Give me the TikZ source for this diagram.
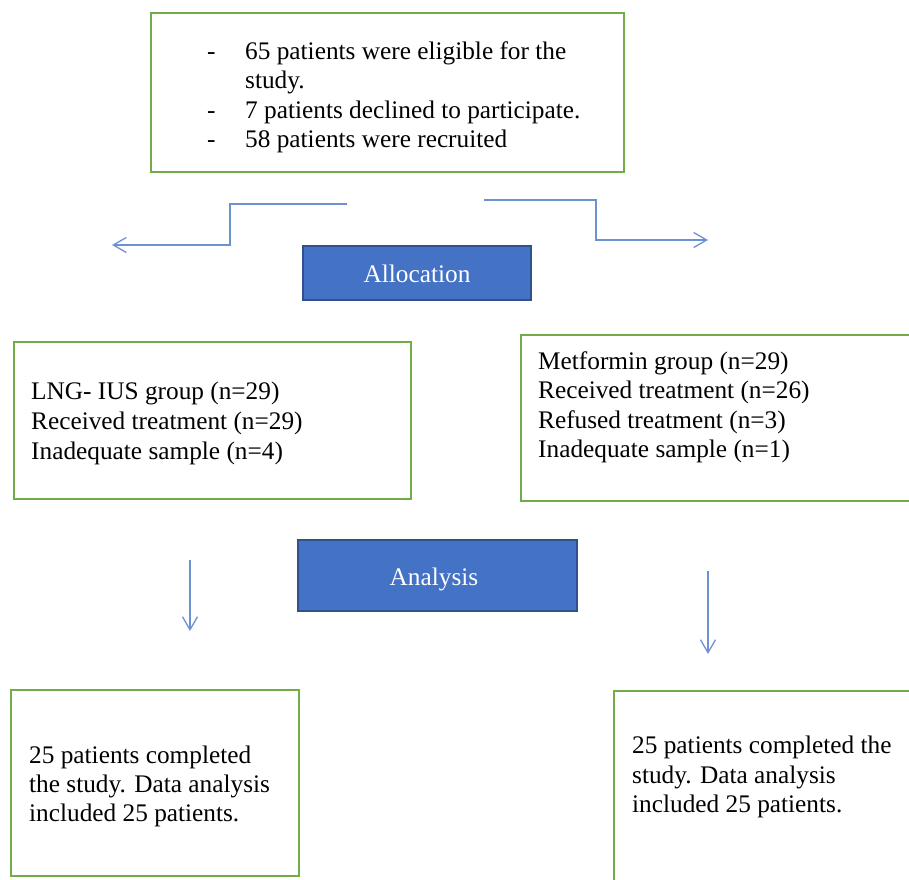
\documentclass[tikz,border=0pt]{standalone}
\usepackage{fontspec}
\setmainfont{Liberation Serif}
\usetikzlibrary{arrows.meta}
\definecolor{boxgreen}{RGB}{112,173,71}
\definecolor{boxblue}{RGB}{68,114,196}
\definecolor{boxblueborder}{RGB}{47,82,143}
\definecolor{arrowblue}{RGB}{110,145,212}
\tikzset{
  greenbox/.style={draw=boxgreen, line width=2pt, rectangle, inner sep=0pt, fill=white},
  bluebox/.style={draw=boxblueborder, line width=1.6pt, fill=boxblue, rectangle, inner sep=0pt},
  txt/.style={anchor=base west, inner sep=0pt, font=\fontsize{25.3}{29.5}\selectfont},
  wtxt/.style={anchor=base, inner sep=0pt, text=white, font=\fontsize{25.3}{29.5}\selectfont},
  flowarrow/.style={draw=arrowblue, line width=1.3pt, -{Straight Barb[length=13pt,width=15pt,line width=1.3pt]}}
}
\begin{document}
\begin{tikzpicture}[x=1pt,y=-1pt]
\useasboundingbox (0,0) rectangle (909,879);
% boxes
\node[greenbox, minimum width=473pt, minimum height=159pt] (top) at (387.5,92.5) {};
\node[bluebox, minimum width=228pt, minimum height=54pt] (alloc) at (417,273) {};
\node[greenbox, minimum width=397pt, minimum height=157pt] (lng) at (212.5,420.5) {};
\node[greenbox, minimum width=394pt, minimum height=166pt] (met) at (718,418) {};
\node[bluebox, minimum width=279pt, minimum height=71pt] (anal) at (437.5,575.5) {};
\node[greenbox, minimum width=288pt, minimum height=186pt] (bl) at (155,783) {};
\node[greenbox, minimum width=301pt, minimum height=194pt] (br) at (764.5,788) {};
% top text
\node[txt] (d1) at (207,59) {-};
\node[txt] (t1) at (245,59) {65 patients were eligible for the};
\node[txt] (t2) at (245,88.5) {study.};
\node[txt] (d2) at (207,118) {-};
\node[txt] (t3) at (245,118) {7 patients declined to participate.};
\node[txt] (d3) at (207,147.5) {-};
\node[txt] (t4) at (245,147.5) {58 patients were recruited};
% blue labels
\node[wtxt] (allocT) at (417,282.5) {Allocation};
\node[wtxt] (analT) at (434,585) {Analysis};
% left group
\node[txt] (l1) at (31,399) {LNG- IUS group (n=29)};
\node[txt] (l2) at (31,429) {Received treatment (n=29)};
\node[txt] (l3) at (31,459) {Inadequate sample (n=4)};
% right group
\node[txt] (r1) at (538,369.5) {Metformin group (n=29)};
\node[txt] (r2) at (538,398.5) {Received treatment (n=26)};
\node[txt] (r3) at (538,428) {Refused treatment (n=3)};
\node[txt] (r4) at (538,457.5) {Inadequate sample (n=1)};
% bottom left
\node[txt] (bl1) at (29,763) {25 patients completed};
\node[txt] (bl2) at (29,792.5) {the study. Data analysis};
\node[txt] (bl3) at (29,821.5) {included 25 patients.};
% bottom right
\node[txt] (br1) at (632,753.5) {25 patients completed the};
\node[txt] (br2) at (632,783) {study. Data analysis};
\node[txt] (br3) at (632,812.5) {included 25 patients.};
% arrow coordinates
\coordinate (la0) at (347,204);
\coordinate (la1) at (230,204);
\coordinate (la2) at (230,245);
\coordinate (la3) at (112,245);
\coordinate (ra0) at (484,200);
\coordinate (ra1) at (596,200);
\coordinate (ra2) at (596,240);
\coordinate (ra3) at (708,240);
\coordinate (ld0) at (190,560);
\coordinate (ld1) at (190,631);
\coordinate (rd0) at (708,571);
\coordinate (rd1) at (708,654);
\draw[flowarrow] (la0) -- (la1) -- (la2) -- (la3);
\draw[flowarrow] (ra0) -- (ra1) -- (ra2) -- (ra3);
\draw[flowarrow] (ld0) -- (ld1);
\draw[flowarrow] (rd0) -- (rd1);
\end{tikzpicture}
\end{document}
